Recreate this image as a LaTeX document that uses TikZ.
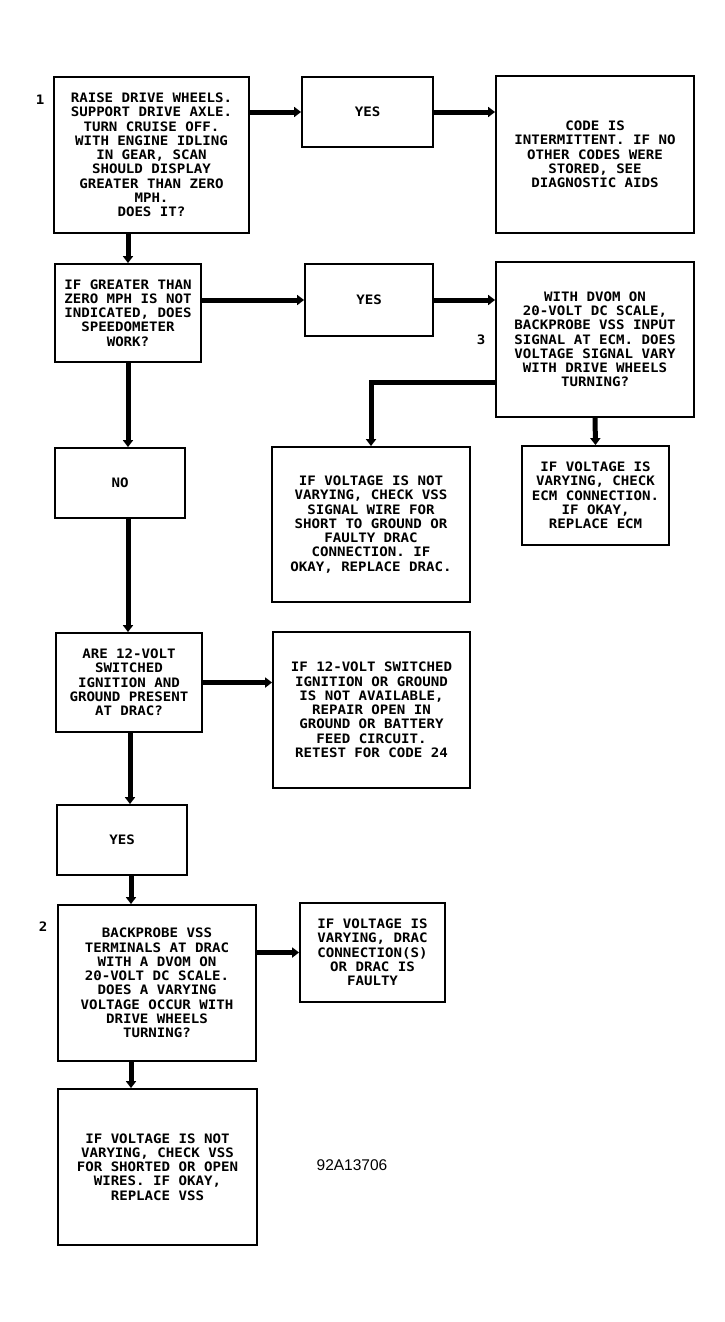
\documentclass[tikz,border=0pt]{standalone}
\usepackage{fontspec}
\newfontfamily\dmono[FakeStretch=1.086]{DejaVu Sans Mono}
\newfontfamily\lsans{Liberation Sans}
\usetikzlibrary{arrows.meta}
\begin{document}
\begin{tikzpicture}[x=1pt,y=-1pt,
  box/.style={draw, line width=1.8pt, inner sep=0pt, align=center,
    font=\dmono\bfseries\fontsize{13}{14.25}\selectfont},
  arr/.style={line width=5pt, -{Triangle[length=7pt,width=10pt]}},
  num/.style={font=\dmono\bfseries\fontsize{13}{14.25}\selectfont}]
\useasboundingbox[fill=white] (0,0) rectangle (724,1322);

\node[box, minimum width=195pt, minimum height=156pt] (b1) at (151.5,155)
 {RAISE DRIVE WHEELS.\\SUPPORT DRIVE AXLE.\\TURN CRUISE OFF.\\WITH ENGINE IDLING\\IN GEAR, SCAN\\SHOULD DISPLAY\\GREATER THAN ZERO\\MPH.\\DOES IT?};
\node[box, minimum width=131pt, minimum height=70pt] (yes1) at (367.5,112) {YES};
\node[box, minimum width=198pt, minimum height=157pt] (code) at (595,154.5)
 {CODE IS\\INTERMITTENT. IF NO\\OTHER CODES WERE\\STORED, SEE\\DIAGNOSTIC AIDS};

\node[box, minimum width=146pt, minimum height=98pt] (b2) at (128,313)
 {IF GREATER THAN\\ZERO MPH IS NOT\\INDICATED, DOES\\SPEEDOMETER\\WORK?};
\node[box, minimum width=128pt, minimum height=72pt] (yes2) at (369,300) {YES};
\node[box, minimum width=198pt, minimum height=155pt] (b3) at (595,339.5)
 {WITH DVOM ON\\20-VOLT DC SCALE,\\BACKPROBE VSS INPUT\\SIGNAL AT ECM. DOES\\VOLTAGE SIGNAL VARY\\WITH DRIVE WHEELS\\TURNING?};

\node[box, minimum width=130pt, minimum height=70pt] (no) at (120,483) {NO};
\node[box, minimum width=198pt, minimum height=155pt] (notvar) at (371,524.5)
 {IF VOLTAGE IS NOT\\VARYING, CHECK VSS\\SIGNAL WIRE FOR\\SHORT TO GROUND OR\\FAULTY DRAC\\CONNECTION. IF\\OKAY, REPLACE DRAC.};
\node[box, minimum width=147pt, minimum height=99pt] (varyecm) at (595.5,495.5)
 {IF VOLTAGE IS\\VARYING, CHECK\\ECM CONNECTION.\\IF OKAY,\\REPLACE ECM};

\node[box, minimum width=146pt, minimum height=99pt] (are) at (129,682.5)
 {ARE 12-VOLT\\SWITCHED\\IGNITION AND\\GROUND PRESENT\\AT DRAC?};
\node[box, minimum width=197pt, minimum height=156pt] (if12) at (371.5,710)
 {IF 12-VOLT SWITCHED\\IGNITION OR GROUND\\IS NOT AVAILABLE,\\REPAIR OPEN IN\\GROUND OR BATTERY\\FEED CIRCUIT.\\RETEST FOR CODE 24};

\node[box, minimum width=130pt, minimum height=70pt] (yes3) at (122,840) {YES};
\node[box, minimum width=198pt, minimum height=156pt] (back) at (157,983)
 {BACKPROBE VSS\\TERMINALS AT DRAC\\WITH A DVOM ON\\20-VOLT DC SCALE.\\DOES A VARYING\\VOLTAGE OCCUR WITH\\DRIVE WHEELS\\TURNING?};
\node[box, minimum width=145pt, minimum height=99pt] (vardrac) at (372.5,952.5)
 {IF VOLTAGE IS\\VARYING, DRAC\\CONNECTION(S)\\OR DRAC IS\\FAULTY};
\node[box, minimum width=199pt, minimum height=156pt] (last) at (157.5,1167)
 {IF VOLTAGE IS NOT\\VARYING, CHECK VSS\\FOR SHORTED OR OPEN\\WIRES. IF OKAY,\\REPLACE VSS};

\node[num] (n1) at (40,100) {1};
\node[num] (n3) at (481,340) {3};
\node[num] (n2) at (43,927) {2};
\node[font=\lsans\fontsize{15.5}{18}\selectfont] (id) at (352,1165) {92A13706};

\draw[arr] (b1.east |- yes1.west) -- (yes1.west);
\draw[arr] (yes1.east) -- (yes1.east -| code.west);
\draw[arr] (b1.south -| b2.north) -- (b2.north);
\draw[arr] (b2.east |- yes2.west) -- (yes2.west);
\draw[arr] (yes2.east) -- (yes2.east -| b3.west);
\draw[arr] ([yshift=35pt]b3.south west) -| (notvar.north);
\draw[arr] (b3.south) -- (varyecm.north);
\draw[arr] (b2.south) -- (b2.south |- no.north);
\draw[arr] (b2.south |- no.south) -- (b2.south |- are.north);
\draw[arr] (are.east) -- (are.east -| if12.west);
\draw[arr] ([xshift=1pt]are.south) -- ([xshift=1pt]are.south |- yes3.north);
\draw[arr] ([xshift=-26pt]back.north |- yes3.south) -- ([xshift=-26pt]back.north);
\draw[arr] (back.east |- vardrac.west) -- (vardrac.west);
\draw[arr] ([xshift=-26pt]back.south) -- ([xshift=-26pt]back.south |- last.north);
\end{tikzpicture}
\end{document}
